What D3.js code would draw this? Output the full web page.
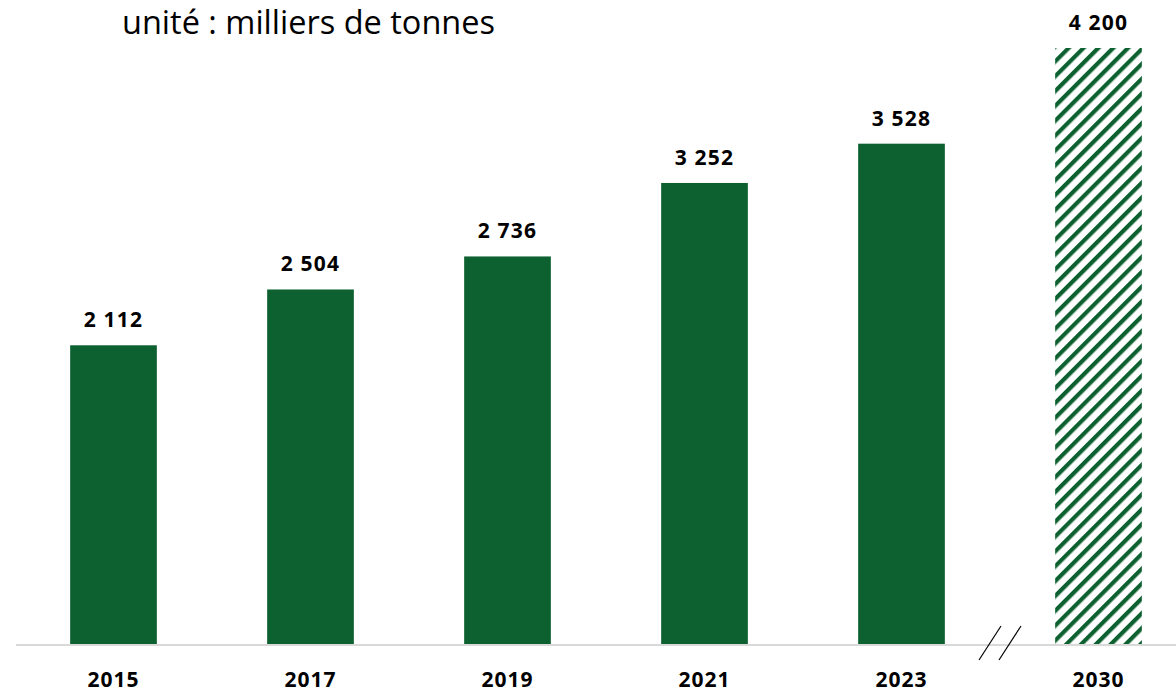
<!DOCTYPE html>
<html lang="fr">
<head>
<meta charset="utf-8">
<script src="https://cdn.jsdelivr.net/npm/d3@7"></script>
<style>
  html, body { margin: 0; padding: 0; background: #ffffff; }
  svg { display: block; font-family: "Open Sans", "Noto Sans", sans-serif; }
</style>
</head>
<body>
<svg id="chart" width="1176" height="693"></svg>
<script>
// Tonnage par année (milliers de tonnes); 2030 = objectif
const years = ["2015", "2017", "2019", "2021", "2023", "2030"];
const values = [2112, 2504, 2736, 3252, 3528, 4200];
const projected = [false, false, false, false, false, true];
const valueLabels = ["2 112", "2 504", "2 736", "3 252", "3 528", "4 200"];

const W = 1176, H = 693;
const green = "#0d6130";
const svg = d3.select("#chart");

// Hatch pattern for the projected bar
const defs = svg.append("defs");
const pat = defs.append("pattern")
  .attr("id", "hatch")
  .attr("patternUnits", "userSpaceOnUse")
  .attr("width", 10.5).attr("height", 10.5)
  .attr("patternTransform", "rotate(45)");
pat.append("rect").attr("width", 10.5).attr("height", 10.5).attr("fill", "#ffffff");
pat.append("rect").attr("x", 0).attr("y", 0).attr("width", 4.2).attr("height", 10.5).attr("fill", green);

const x = d3.scaleBand()
  .domain(years)
  .range([15, 1197])
  .paddingInner(0.56)
  .paddingOuter(0.28);

const y = d3.scaleLinear()
  .domain([0, 4200])
  .range([646, 48]);

// Subtitle
svg.append("text")
  .attr("x", 122).attr("y", 34)
  .attr("font-size", 32.5)
  .attr("fill", "#000")
  .text("unité : milliers de tonnes");

// Bars
const data = years.map((yr, i) => ({ yr, v: values[i], proj: projected[i], label: valueLabels[i] }));

svg.append("g").selectAll("rect")
  .data(data)
  .join("rect")
  .attr("x", d => x(d.yr))
  .attr("width", x.bandwidth())
  .attr("y", d => y(d.v))
  .attr("height", d => y(0) - y(d.v))
  .attr("fill", d => d.proj ? "url(#hatch)" : green);

// Value labels
svg.append("g").selectAll("text")
  .data(data)
  .join("text")
  .attr("x", d => x(d.yr) + x.bandwidth() / 2)
  .attr("y", d => y(d.v) - 18)
  .attr("text-anchor", "middle")
  .attr("font-size", 21)
  .attr("font-weight", "bold")
  .attr("letter-spacing", 1.2)
  .attr("fill", "#000")
  .text(d => d.label);

// Baseline axis
const axis = svg.append("g")
  .attr("transform", `translate(0,${y(0)})`)
  .call(d3.axisBottom(x).tickSize(0).tickPadding(26));
axis.select(".domain").remove();
axis.append("line")
  .attr("x1", 16).attr("x2", W)
  .attr("y1", -1).attr("y2", -1)
  .attr("stroke", "#d9d9d9").attr("stroke-width", 2);
axis.selectAll(".tick text")
  .attr("font-family", "\"Open Sans\", \"Noto Sans\", sans-serif")
  .attr("font-size", 21)
  .attr("font-weight", "bold")
  .attr("letter-spacing", 1)
  .attr("fill", "#000");

// Axis break marks between 2023 and 2030
const gapX = (x("2023") + x.bandwidth() + x("2030")) / 2;
[-10, 10].forEach(dx => {
  svg.append("line")
    .attr("x1", gapX + dx - 11).attr("y1", y(0) + 14)
    .attr("x2", gapX + dx + 11).attr("y2", y(0) - 20)
    .attr("stroke", "#000").attr("stroke-width", 1.2);
});
</script>
</body>
</html>
